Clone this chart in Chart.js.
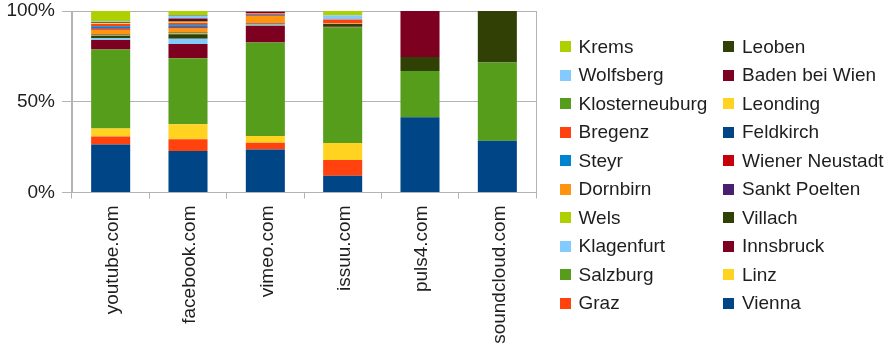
<!DOCTYPE html>
<html>
<head>
<meta charset="utf-8">
<script src="https://cdn.jsdelivr.net/npm/chart.js@4/dist/chart.umd.min.js"></script>
<style>
  html, body { margin: 0; padding: 0; background: #fff; }
  #wrap { position: relative; width: 892px; height: 354px; }
  #legend { position: absolute; left: 0; top: 0; }
  .li { position: absolute; height: 22px; display: flex; align-items: center;
        font: 19px "Liberation Sans", Arial, sans-serif; color: #1e1e1e; white-space: nowrap; }
  .li span.box { width: 11px; height: 11px; margin-right: 8px; }
</style>
</head>
<body>
<div id="wrap">
  <canvas id="chart" width="892" height="354"></canvas>
  <div id="legend"></div>
</div>
<script>
// ======== Data ========
const categories = ['youtube.com', 'facebook.com', 'vimeo.com', 'issuu.com', 'puls4.com', 'soundcloud.com'];

// series, bottom of stack first
const cities = ['Vienna', 'Graz', 'Linz', 'Salzburg', 'Innsbruck', 'Klagenfurt', 'Villach', 'Wels',
  'Sankt Poelten', 'Dornbirn', 'Wiener Neustadt', 'Steyr', 'Feldkirch', 'Bregenz', 'Leonding',
  'Klosterneuburg', 'Baden bei Wien', 'Wolfsberg', 'Leoben', 'Krems'];

const cityColors = ['#004586', '#ff420e', '#ffd320', '#579d1c', '#7e0021', '#83caff', '#314004', '#aecf00',
  '#4b1f6f', '#ff950e', '#c5000b', '#0084d1', '#004586', '#ff420e', '#ffd320',
  '#579d1c', '#7e0021', '#83caff', '#314004', '#aecf00'];

// share in % per site, same order as cities
const youtube    = [26.5, 4.4, 4.4, 43.5, 5.2, 1.0, 1.4, 0.4, 0.3, 2.6, 0.6, 1.1, 0.4, 1.1, 0.3, 0.3, 0.5, 0.4, 0.1, 5.5];
const facebook   = [22.8, 6.5, 8.3, 36.4, 7.8, 2.9, 2.5, 0.5, 0.4, 2.2, 0.8, 1.0, 0.4, 1.0, 0.4, 0.4, 1.6, 1.5, 0.2, 2.4];
const vimeo      = [23.7, 3.7, 3.7, 51.5, 9.3, 0.5, 0.2, 0.2, 0.3, 4.3, 0.4, 0.3, 0.2, 0.3, 0.1, 0.1, 0.8, 0.1, 0.1, 0.1];
const issuu      = [9.2, 8.7, 9.4, 63.7, 0.3, 0, 1.6, 0, 0, 0.2, 0, 0.2, 0, 2.0, 0, 0, 0, 2.4, 0, 2.3];
const puls4      = [41.4, 0, 0, 25.5, 0, 0, 7.8, 0, 0, 0, 0, 0, 0, 0, 0, 0, 25.3, 0, 0, 0];
const soundcloud = [28.5, 0, 0, 43.1, 0, 0, 28.4, 0, 0, 0, 0, 0, 0, 0, 0, 0, 0, 0, 0, 0];

const yTicks = [0, 50, 100];

// ======== Chart ========
const sites = [youtube, facebook, vimeo, issuu, puls4, soundcloud];
const gray = '#b3b3b3';

Chart.defaults.font.family = '"Liberation Sans", Arial, sans-serif';
Chart.defaults.font.size = 19;
Chart.defaults.color = '#1e1e1e';

const datasets = cities.map((name, i) => ({
  label: name,
  data: sites.map(s => s[i]),
  backgroundColor: cityColors[i],
  borderWidth: 0,
  barPercentage: 0.505,
  categoryPercentage: 1,
}));

const chart = new Chart(document.getElementById('chart').getContext('2d'), {
  type: 'bar',
  data: { labels: categories, datasets },
  options: {
    responsive: false,
    animation: false,
    layout: { padding: { left: 0, top: 0, right: 356, bottom: 0 } },
    plugins: { legend: { display: false }, tooltip: { enabled: false } },
    scales: {
      x: {
        stacked: true,
        afterFit: s => { s.height = 161.5; },
        border: { color: gray },
        grid: {
          offset: true,
          tickLength: 6,
          tickColor: gray,
          color: c => (c.type === 'tick' && c.index > 0) ? 'transparent' : gray,
        },
        ticks: { minRotation: 90, maxRotation: 90, padding: 7, labelOffset: 2 },
      },
      y: {
        stacked: true,
        min: 0,
        max: 100,
        afterFit: s => { s.width = 72; s.paddingTop = 11; },
        afterBuildTicks: s => { s.ticks = yTicks.map(v => ({ value: v })); },
        border: { color: gray },
        grid: { color: gray, tickLength: 10 },
        ticks: { padding: 7, callback: v => v + '%' },
      },
    },
  },
});

// ======== Legend (reversed, two columns filled row by row) ========
const legendEl = document.getElementById('legend');
const items = chart.data.datasets.slice().reverse();
items.forEach((ds, k) => {
  const col = k % 2, row = Math.floor(k / 2);
  const el = document.createElement('div');
  el.className = 'li';
  el.style.left = (col ? 723 : 559.5) + 'px';
  el.style.top = (46.7 + row * 28.5 - 11) + 'px';
  el.innerHTML = `<span class="box" style="background:${ds.backgroundColor}"></span>${ds.label}`;
  legendEl.appendChild(el);
});
</script>
</body>
</html>
